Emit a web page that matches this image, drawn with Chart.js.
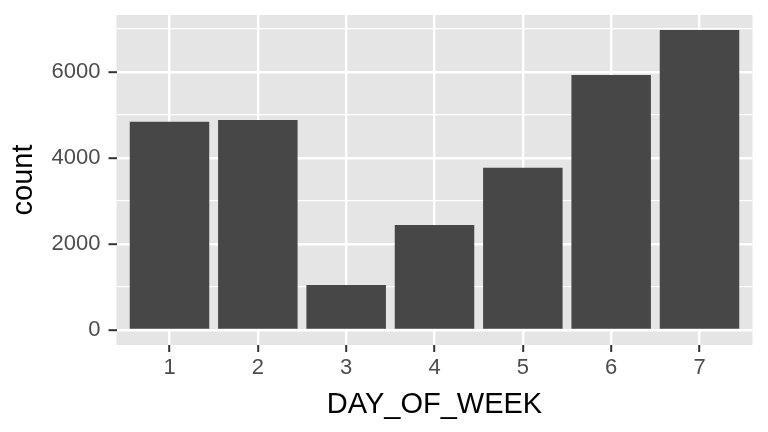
<!DOCTYPE html>
<html lang="en">
<head>
  <meta charset="UTF-8">
  <title>count by DAY_OF_WEEK</title>
  <script src="https://cdn.jsdelivr.net/npm/chart.js"></script>
  <style>
    body {
      margin: 0;
      padding: 0;
      background: #fff;
    }
    .chart-box {
      width: 768px;
      height: 432px;
    }
  </style>
</head>
<body>
  <div class="chart-box">
    <canvas id="dayChart" width="768" height="432"></canvas>
  </div>

  <script>
    const days = [1, 2, 3, 4, 5, 6, 7];
    const counts = [4840, 4885, 1045, 2440, 3770, 5930, 6975];
    const yTicks = [0, 2000, 4000, 6000];
    const yMinor = [1000, 3000, 5000, 7000];

    // ggplot style expansion: 5% on y, 0.6 units on a discrete x
    const maxCount = Math.max(...counts);
    const yMin = -maxCount * 0.05;
    const yMax = maxCount * 1.05;

    const panelBg = {
      id: 'panelBg',
      beforeDraw(chart) {
        const { ctx, chartArea } = chart;
        ctx.save();
        ctx.fillStyle = '#E5E5E5';
        ctx.fillRect(chartArea.left, chartArea.top, chartArea.right - chartArea.left, chartArea.bottom - chartArea.top);
        ctx.restore();
      }
    };

    const font = 'Liberation Sans, Arial, sans-serif';

    new Chart(document.getElementById('dayChart'), {
      type: 'bar',
      data: {
        datasets: [{
          label: 'count',
          data: days.map((d, i) => ({ x: d, y: counts[i] })),
          backgroundColor: '#474747',
          borderWidth: 0,
          barPercentage: 0.9,
          categoryPercentage: 1.0
        }]
      },
      options: {
        responsive: false,
        animation: false,
        layout: { padding: { top: 15, right: 15.5, left: 0, bottom: 0 } },
        plugins: {
          legend: { display: false },
          tooltip: { enabled: false }
        },
        scales: {
          x: {
            type: 'linear',
            offset: false,
            min: days[0] - 0.6,
            max: days[days.length - 1] + 0.6,
            afterBuildTicks(scale) {
              scale.ticks = days.map(v => ({ value: v }));
            },
            afterFit(scale) {
              scale.height = 87;
              scale.paddingLeft = 0;
              scale.paddingRight = 0;
            },
            border: { display: false },
            grid: {
              offset: false,
              color: '#FFFFFF',
              lineWidth: 2.4,
              tickColor: '#333333',
              tickWidth: 2,
              tickLength: 7
            },
            ticks: {
              autoSkip: false,
              maxRotation: 0,
              padding: 3,
              color: '#4D4D4D',
              font: { family: font, size: 22 },
              callback: v => String(v)
            },
            title: {
              display: true,
              text: 'DAY_OF_WEEK',
              color: '#000000',
              font: { family: font, size: 29 },
              padding: { top: 0, bottom: 10 }
            }
          },
          y: {
            type: 'linear',
            min: yMin,
            max: yMax,
            afterBuildTicks(scale) {
              scale.ticks = yTicks.concat(yMinor).sort((a, b) => a - b).map(v => ({ value: v }));
            },
            afterFit(scale) {
              scale.width = 116.5;
              scale.paddingTop = 0;
              scale.paddingBottom = 0;
            },
            border: { display: false },
            grid: {
              color: '#FFFFFF',
              lineWidth: c => (yTicks.includes(c.tick.value) ? 2.4 : 1.2),
              tickColor: c => (yTicks.includes(c.tick.value) ? '#333333' : 'rgba(0,0,0,0)'),
              tickWidth: 2,
              tickLength: 8
            },
            ticks: {
              autoSkip: false,
              padding: 8,
              color: '#4D4D4D',
              font: { family: font, size: 22 },
              callback: v => (yTicks.includes(v) ? String(v) : '')
            },
            title: {
              display: true,
              text: 'count',
              color: '#000000',
              font: { family: font, size: 29 },
              padding: { top: 7, bottom: 0 }
            }
          }
        }
      },
      plugins: [panelBg]
    });
  </script>
</body>
</html>
